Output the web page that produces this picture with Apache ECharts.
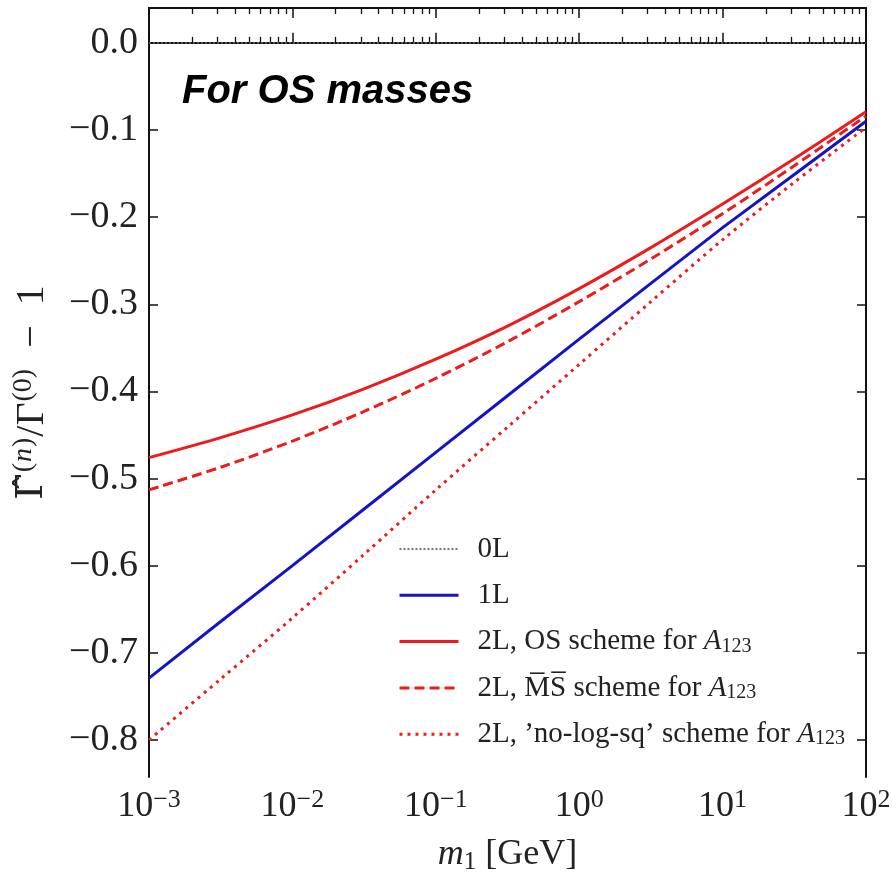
<!DOCTYPE html>
<html>
<head>
<meta charset="utf-8">
<script src="https://cdn.jsdelivr.net/npm/echarts@6/dist/echarts.min.js"></script>
<style>html,body{margin:0;padding:0;background:#fff;}#c{width:892px;height:877px;}</style>
</head>
<body>
<div id="c"></div>
<script>
// ---- data ----
const m1Values = [0.001, 0.0031623, 0.01, 0.031623, 0.1, 0.31623, 1, 3.1623, 10, 31.623, 100];
const zeroLoop = [0, 0, 0, 0, 0, 0, 0, 0, 0, 0, 0];
const oneLoop = [-0.729, -0.664, -0.600, -0.535, -0.470, -0.405, -0.340, -0.276, -0.212, -0.151, -0.090];
const twoLoopOS = [-0.476, -0.453, -0.427, -0.397, -0.363, -0.325, -0.282, -0.235, -0.185, -0.133, -0.079];
const twoLoopMSbar = [-0.513, -0.487, -0.457, -0.423, -0.385, -0.343, -0.297, -0.248, -0.196, -0.141, -0.084];
const twoLoopNoLogSq = [-0.800, -0.730, -0.660, -0.587, -0.513, -0.441, -0.369, -0.297, -0.226, -0.160, -0.097];
const yTicks = [0, -0.1, -0.2, -0.3, -0.4, -0.5, -0.6, -0.7, -0.8];
const xMinorTicks = [];
[0.001, 0.01, 0.1, 1, 10].forEach(d => { for (let k = 2; k <= 9; k++) xMinorTicks.push(+(k * d).toPrecision(3)); });

const RED = '#ee1b1b', BLUE = '#1414c4';
const SERIF = '"Liberation Serif", "DejaVu Serif", serif';
const TXT = '#222';
const pair = arr => m1Values.map((x, i) => [x, arr[i]]);

const chart = echarts.init(document.getElementById('c'), null, {renderer: 'canvas'});

const axisLineStyle = {show: true, lineStyle: {color: '#111', width: 2}};
const xBase = {type: 'log', logBase: 10, min: 0.001, max: 100, splitLine: {show: false}};

const option = {
  animation: false,
  backgroundColor: '#fff',
  title: {
    text: 'For OS masses', left: 182, top: 72, padding: 0,
    textStyle: {fontFamily: '"Liberation Sans", Arial, sans-serif', fontStyle: 'italic', fontWeight: 'bold', fontSize: 40, color: '#000'}
  },
  grid: {left: 149, right: 26, top: 8, bottom: 100, containLabel: false, outerBoundsMode: 'none'},
  legend: {
    orient: 'vertical', left: 398, top: 534, padding: 0, itemWidth: 59, itemHeight: 14, itemGap: 16.3,
    data: [
      {name: '0L', lineStyle: {color: '#555', width: 1.6, type: [2, 2]}, itemStyle: {opacity: 0}},
      {name: '1L', lineStyle: {color: BLUE, width: 3, type: 'solid'}, itemStyle: {opacity: 0}},
      {name: 'OS', lineStyle: {color: RED, width: 3, type: 'solid'}, itemStyle: {opacity: 0}},
      {name: 'MS', lineStyle: {color: RED, width: 3, type: [10, 5]}, itemStyle: {opacity: 0}},
      {name: 'NLS', lineStyle: {color: RED, width: 3, type: [3, 5]}, itemStyle: {opacity: 0}}
    ],
    formatter: function (n) {
      if (n === '0L') return '{t|0L}';
      if (n === '1L') return '{t|1L}';
      if (n === 'OS') return '{t|2L, OS scheme for }{i|A}{sub|123}';
      if (n === 'MS') return '{t|2L, M\u0305S\u0305 scheme for }{i|A}{sub|123}';
      return "{t|2L, \u2019no-log-sq\u2019 scheme for }{i|A}{sub|123}";
    },
    textStyle: {
      fontFamily: SERIF, fontSize: 29, color: TXT, lineHeight: 30,
      rich: {
        t: {fontFamily: SERIF, fontSize: 29, lineHeight: 30, color: TXT, padding: [0, 0, 0, 14]},
        i: {fontFamily: SERIF, fontSize: 29, lineHeight: 30, fontStyle: 'italic', color: TXT},
        sub: {fontFamily: SERIF, fontSize: 20, lineHeight: 14, verticalAlign: 'bottom', color: TXT}
      }
    }
  },
  xAxis: [
    Object.assign({}, xBase, {
      position: 'bottom', interval: 1,
      axisLine: axisLineStyle,
      axisTick: {show: true, inside: true, length: 10, lineStyle: {color: '#111', width: 1.5}},
      axisLabel: {
        show: true, margin: 10,
        formatter: function (v) {
          const e = Math.round(Math.log10(v));
          return '{b|10}{s|' + (e < 0 ? '\u2212' + (-e) : e) + '}';
        },
        rich: {
          b: {fontFamily: SERIF, fontSize: 36, lineHeight: 40, color: TXT},
          s: {fontFamily: SERIF, fontSize: 26, lineHeight: 16, verticalAlign: 'top', color: TXT}
        }
      },
      name: '{i|m}{sub|1}{t| [GeV]}', nameLocation: 'middle', nameGap: 58,
      nameTextStyle: {
        rich: {
          i: {fontFamily: SERIF, fontStyle: 'italic', fontSize: 36, lineHeight: 40, color: TXT},
          sub: {fontFamily: SERIF, fontSize: 25, lineHeight: 16, verticalAlign: 'bottom', color: TXT},
          t: {fontFamily: SERIF, fontSize: 36, lineHeight: 40, color: TXT}
        }
      }
    }),
    Object.assign({}, xBase, {
      position: 'bottom',
      axisLine: {show: false},
      axisTick: {show: true, inside: true, length: 6, customValues: xMinorTicks, lineStyle: {color: '#111', width: 1.3}},
      axisLabel: {show: false}
    }),
    Object.assign({}, xBase, {
      position: 'top', interval: 1,
      axisLine: axisLineStyle,
      axisTick: {show: true, inside: true, length: 10, lineStyle: {color: '#111', width: 1.5}},
      axisLabel: {show: false}
    }),
    Object.assign({}, xBase, {
      position: 'top',
      axisLine: {show: false},
      axisTick: {show: true, inside: true, length: 6, customValues: xMinorTicks, lineStyle: {color: '#111', width: 1.3}},
      axisLabel: {show: false}
    })
  ],
  yAxis: [
    {
      type: 'value', position: 'left', min: -0.8425, max: 0.040,
      splitLine: {show: false},
      axisLine: axisLineStyle,
      axisTick: {show: true, inside: true, length: 9, customValues: yTicks, lineStyle: {color: '#111', width: 1.5}},
      axisLabel: {
        show: true, margin: 11, customValues: yTicks,
        fontFamily: SERIF, fontSize: 38, color: TXT,
        formatter: v => (v < -1e-9 ? '\u2212' : '') + Math.abs(v).toFixed(1)
      },
      name: '{h|\u0393\u0302}{sp|(}{si|n}{sp|)}{g|/\u0393}{sp|(0)}{g|  \u2212  1}',
      nameLocation: 'middle', nameRotate: 90, nameGap: 95,
      nameTextStyle: {
        rich: {
          h: {fontFamily: '"DejaVu Serif", serif', fontSize: 38, lineHeight: 44, color: TXT},
          g: {fontFamily: SERIF, fontSize: 40, lineHeight: 44, color: TXT},
          sp: {fontFamily: SERIF, fontSize: 28, lineHeight: 18, verticalAlign: 'top', color: TXT, padding: [0, 1, 0, 1]},
          si: {fontFamily: SERIF, fontStyle: 'italic', fontSize: 28, lineHeight: 18, verticalAlign: 'top', color: TXT}
        }
      }
    },
    {
      type: 'value', position: 'right', min: -0.8425, max: 0.040,
      splitLine: {show: false},
      axisLine: axisLineStyle,
      axisTick: {show: true, inside: true, length: 9, customValues: yTicks, lineStyle: {color: '#111', width: 1.5}},
      axisLabel: {show: false}
    }
  ],
  series: [
    {name: '0L', type: 'line', xAxisIndex: 0, yAxisIndex: 0, data: pair(zeroLoop), symbol: 'none',
     lineStyle: {color: '#555', width: 1.6, type: [2, 2]}, itemStyle: {color: '#555'}, z: 2},
    {name: '1L', type: 'line', xAxisIndex: 0, yAxisIndex: 0, data: pair(oneLoop), symbol: 'none',
     lineStyle: {color: BLUE, width: 3}, itemStyle: {color: BLUE}, z: 3},
    {name: 'OS', type: 'line', xAxisIndex: 0, yAxisIndex: 0, data: pair(twoLoopOS), symbol: 'none', smooth: 0.3,
     lineStyle: {color: RED, width: 3}, itemStyle: {color: RED}, z: 4},
    {name: 'MS', type: 'line', xAxisIndex: 0, yAxisIndex: 0, data: pair(twoLoopMSbar), symbol: 'none', smooth: 0.3,
     lineStyle: {color: RED, width: 3, type: [10, 5]}, itemStyle: {color: RED}, z: 4},
    {name: 'NLS', type: 'line', xAxisIndex: 0, yAxisIndex: 0, data: pair(twoLoopNoLogSq), symbol: 'none', smooth: 0.3,
     lineStyle: {color: RED, width: 3, type: [3, 5]}, itemStyle: {color: RED}, z: 4}
  ]
};
chart.setOption(option);
</script>
</body>
</html>
